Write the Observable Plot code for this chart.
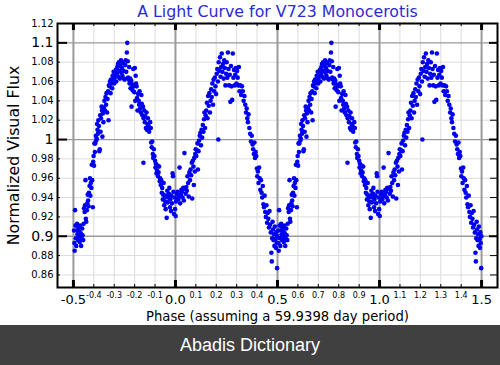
<!DOCTYPE html>
<html><head><meta charset="utf-8">
<script src="https://cdn.jsdelivr.net/npm/d3@7"></script>
<script src="https://cdn.jsdelivr.net/npm/@observablehq/plot@0.6"></script>
<style>
body{margin:0;background:#fff;}
#wrap{position:relative;width:500px;height:365px;overflow:hidden;font-family:"DejaVu Sans",sans-serif;background:#fff;}
#chart{position:absolute;left:0;top:0;}
#band{position:absolute;left:0;top:325px;width:500px;height:40px;background:#404040;color:#fff;font-family:"Liberation Sans",Arial,sans-serif;font-size:18px;text-align:center;line-height:40px;}
</style></head><body>
<div id="wrap"><div id="chart"></div><div id="band">Abadis Dictionary</div></div>
<script>
const title = "A Light Curve for V723 Monocerotis";
const xLabel = "Phase (assuming a 59.9398 day period)";
const yLabel = "Normalized Visual Flux";

// observations, phase-folded (one cycle, shown twice)
const phase = [
 -0.497,-0.495,-0.494,-0.492,-0.490,-0.488,-0.486,-0.484,-0.482,-0.480,-0.478,-0.476,-0.474,-0.471,-0.469,-0.467,-0.464,-0.462,-0.460,-0.457,-0.455,-0.452,-0.450,
 -0.448,-0.445,-0.443,-0.441,-0.439,-0.437,-0.434,-0.432,-0.430,-0.428,-0.426,-0.424,-0.421,-0.419,-0.417,-0.415,-0.412,-0.410,-0.408,-0.405,-0.403,-0.401,-0.399,-0.397,-0.395,
 -0.393,-0.390,-0.388,-0.386,-0.384,-0.382,-0.380,-0.378,-0.375,-0.373,-0.371,-0.369,-0.367,-0.365,-0.362,-0.360,-0.358,-0.356,-0.353,-0.351,
 -0.348,-0.345,-0.343,-0.340,-0.338,-0.335,-0.333,-0.330,-0.328,-0.326,-0.323,-0.321,-0.318,-0.316,-0.313,-0.310,-0.308,-0.305,-0.303,
 -0.300,-0.298,-0.295,-0.292,-0.290,-0.287,-0.285,-0.282,-0.280,-0.277,-0.275,-0.272,-0.270,-0.267,-0.265,-0.262,-0.260,-0.257,-0.255,-0.252,
 -0.249,-0.246,-0.244,-0.241,-0.238,-0.236,-0.234,-0.232,-0.229,-0.227,-0.225,-0.222,-0.220,-0.217,-0.215,-0.212,-0.210,-0.207,-0.205,-0.202,
 -0.199,-0.197,-0.195,-0.193,-0.190,-0.188,-0.186,-0.183,-0.180,-0.178,-0.176,-0.173,-0.170,-0.167,-0.165,-0.162,-0.159,-0.156,-0.153,
 -0.150,-0.148,-0.145,-0.142,-0.140,-0.137,-0.135,-0.132,-0.129,-0.127,-0.124,-0.121,-0.119,-0.116,-0.114,-0.111,-0.109,-0.106,-0.103,-0.157,
 -0.100,-0.098,-0.096,-0.093,-0.090,-0.088,-0.085,-0.083,-0.080,-0.077,-0.075,-0.072,-0.070,-0.067,-0.065,-0.062,-0.060,-0.058,-0.055,-0.052,
 -0.050,-0.048,-0.045,-0.043,-0.040,-0.038,-0.035,-0.032,-0.030,-0.027,-0.025,-0.022,-0.020,-0.017,-0.014,-0.012,-0.010,-0.007,-0.005,-0.002,
 0.001,0.003,0.006,0.008,0.011,0.014,0.017,0.020,0.023,0.026,0.029,0.032,0.035,0.038,0.041,0.044,0.047,
 0.050,0.053,0.056,0.059,0.062,0.065,0.068,0.071,0.074,0.077,0.080,0.082,0.085,0.088,0.090,0.092,0.095,0.097,0.099,
 0.102,0.105,0.108,0.110,0.113,0.116,0.119,0.122,0.125,0.128,0.131,0.134,0.137,0.140,0.142,0.145,0.148,
 0.151,0.154,0.157,0.160,0.163,0.166,0.169,0.172,0.175,0.178,0.181,0.184,0.187,0.190,0.193,0.196,0.199,
 0.202,0.205,0.208,0.210,0.212,0.215,0.218,0.221,0.224,0.227,0.230,0.233,0.236,0.239,0.242,0.245,0.248,
 0.251,0.254,0.257,0.260,0.263,0.266,0.269,0.272,0.275,0.278,0.281,0.284,0.287,0.290,0.293,0.296,0.299,
 0.302,0.305,0.308,0.311,0.314,0.318,0.322,0.326,0.330,0.334,0.338,0.342,0.346,0.349,
 0.352,0.355,0.358,0.362,0.366,0.370,0.374,0.378,0.381,0.384,0.387,0.390,0.393,0.396,0.399,
 0.401,0.404,0.407,0.410,0.413,0.416,0.419,0.422,0.425,0.428,0.431,0.434,0.437,0.440,0.443,0.446,0.449,
 0.452,0.455,0.458,0.461,0.464,0.467,0.470,0.472,0.474,0.476,0.478,0.480,0.483,0.485,0.487,0.490,0.492,0.494,0.496,0.498,0.499
];
const flux = [
 0.906,0.893,0.885,0.927,0.911,0.898,0.890,0.906,0.913,0.902,0.896,0.909,0.900,0.905,0.894,0.911,0.903,0.890,0.898,0.908,0.901,0.896,0.913,
 0.929,0.925,0.932,0.958,0.918,0.915,0.927,0.934,0.943,0.937,0.931,0.945,0.952,0.960,0.942,0.955,0.950,0.974,0.958,0.930,0.977,0.983,0.973,0.996,0.987,
 0.996,1.004,0.999,1.001,1.016,1.010,1.006,1.020,1.014,0.988,0.990,1.025,1.008,1.022,1.034,1.030,1.003,1.027,1.018,1.033,
 1.040,1.030,1.044,1.036,1.048,1.028,1.042,1.050,1.020,1.056,1.055,1.060,1.048,1.062,1.058,1.053,1.066,1.062,1.070,
 1.058,1.064,1.067,1.072,1.060,1.068,1.075,1.078,1.065,1.080,1.071,1.063,1.076,1.082,1.069,1.074,1.066,1.079,1.071,1.063,
 1.062,1.077,1.082,1.070,1.090,1.100,1.081,1.064,1.062,1.075,1.058,1.063,1.053,1.061,1.034,1.057,1.051,1.073,1.055,1.049,
 1.074,1.040,1.066,1.058,1.055,1.043,1.030,1.047,1.040,1.036,1.050,1.032,1.028,1.046,1.037,1.025,1.034,1.022,1.030,
 1.018,1.024,1.012,1.028,1.010,1.016,1.022,1.014,1.008,1.012,1.018,1.012,0.997,0.992,0.998,0.985,0.981,0.990,0.983,0.976,
 0.978,0.971,0.975,0.965,0.968,0.973,0.962,0.966,0.972,0.957,0.960,0.953,0.958,0.945,0.950,0.938,0.943,0.955,0.932,0.940,
 0.936,0.928,0.942,0.919,0.947,0.935,0.940,0.944,0.950,0.930,0.938,0.926,0.942,0.934,0.965,0.962,0.946,0.923,0.940,0.928,
 0.921,0.936,0.944,0.939,0.946,0.938,0.941,0.971,0.934,0.943,0.948,0.946,0.940,0.950,0.937,0.986,0.949,
 0.944,0.951,0.947,0.962,0.955,0.941,0.966,0.958,0.969,0.963,0.976,0.939,0.978,0.972,0.953,0.981,0.967,0.985,0.990,
 0.983,0.989,0.996,0.969,0.988,0.999,1.004,1.007,0.994,1.010,1.002,1.015,1.008,1.021,1.028,1.012,1.025,
 1.030,1.038,1.022,1.045,1.035,1.048,1.028,1.040,1.052,1.044,1.058,1.036,1.062,1.050,1.064,1.055,1.047,
 1.068,1.073,1.060,1.000,1.080,1.071,1.085,1.065,1.075,1.089,1.070,1.078,1.063,1.082,1.074,1.056,1.068,
 1.080,1.064,1.090,1.073,1.056,1.067,1.039,1.076,1.055,1.041,1.089,1.064,1.072,1.056,1.067,1.074,1.058,
 1.071,1.064,1.056,1.075,1.050,1.056,1.046,1.055,1.050,1.040,1.045,1.036,1.028,1.032,
 1.022,1.018,1.026,1.012,1.006,0.998,1.004,0.995,0.990,0.985,0.997,0.981,0.987,0.983,0.970,
 0.962,0.967,0.955,0.971,0.960,0.948,0.958,0.945,0.940,0.952,0.933,0.930,0.942,0.925,0.920,0.932,0.914,
 0.924,0.918,0.909,0.926,0.912,0.904,0.883,0.874,0.898,0.915,0.907,0.896,0.902,0.890,0.910,0.897,0.888,0.904,0.893,0.867,0.900
];
const cycleOffsets = [0, 1];

// ticks
const xMajorTicks = [-0.5, 0, 0.5, 1, 1.5];
const xMajorLabels = ["-0.5", "0.0", "0.5", "1.0", "1.5"];
const xMinorTicks = [-0.4,-0.3,-0.2,-0.1,0.1,0.2,0.3,0.4,0.6,0.7,0.8,0.9,1.1,1.2,1.3,1.4];
const xMinorLabels = ["-0.4","-0.3","-0.2","-0.1","0.1","0.2","0.3","0.4","0.6","0.7","0.8","0.9","1.1","1.2","1.3","1.4"];
const yMajorTicks = [0.9, 1, 1.1];
const yMajorLabels = ["0.9", "1", "1.1"];
const yMinorTicks = [0.86,0.88,0.92,0.94,0.96,0.98,1.02,1.04,1.06,1.08,1.12];
const yMinorLabels = ["0.86","0.88","0.92","0.94","0.96","0.98","1.02","1.04","1.06","1.08","1.12"];

const rows = [];
for (const off of cycleOffsets) phase.forEach((p, i) => rows.push({phase: p + off, flux: flux[i]}));

const fmt = (ticks, labels) => d => labels[ticks.findIndex(t => Math.abs(t - d) < 1e-9)];
const W = 500, H = 325, mL = 57, mR = 3, mT = 23, mB = 38;
const fw = W - mL - mR, fh = H - mT - mB;

const chart = Plot.plot({
  width: W, height: H,
  marginLeft: mL, marginRight: mR, marginTop: mT, marginBottom: mB,
  style: {fontFamily: "DejaVu Sans, sans-serif", background: "white", color: "black", overflow: "visible"},
  x: {domain: [-0.578, 1.578]},
  y: {domain: [0.847, 1.12]},
  marks: [
    Plot.ruleX(xMinorTicks, {stroke: "#dcdcdc", strokeWidth: 1}),
    Plot.ruleY(yMinorTicks, {stroke: "#dcdcdc", strokeWidth: 1}),
    Plot.ruleX(xMajorTicks, {stroke: "#9a9a9a", strokeWidth: 2}),
    Plot.ruleY(yMajorTicks, {stroke: "#9a9a9a", strokeWidth: 1.3}),
    Plot.dot(rows, {x: "phase", y: "flux", r: 2.3, fill: "#0000ee", stroke: "none"}),
    // inward ticks
    Plot.ruleX(xMajorTicks, {stroke: "black", strokeWidth: 3, insetBottom: fh - 7}),
    Plot.ruleX(xMajorTicks, {stroke: "black", strokeWidth: 3, insetTop: fh - 7}),
    Plot.ruleX(xMinorTicks, {stroke: "black", strokeWidth: 1, insetBottom: fh - 3}),
    Plot.ruleX(xMinorTicks, {stroke: "black", strokeWidth: 1, insetTop: fh - 3}),
    Plot.ruleY(yMajorTicks, {stroke: "black", strokeWidth: 2, insetRight: fw - 10}),
    Plot.ruleY(yMinorTicks, {stroke: "black", strokeWidth: 1, insetRight: fw - 3}),
    Plot.ruleY(yMajorTicks, {stroke: "black", strokeWidth: 2, insetLeft: fw - 8}),
    Plot.ruleY(yMinorTicks, {stroke: "black", strokeWidth: 1, insetLeft: fw - 7}),
    Plot.frame({stroke: "black", strokeWidth: 2}),
    // tick labels
    Plot.axisX(xMajorTicks, {anchor: "bottom", tickSize: 0, tickPadding: 7, fontSize: 13, tickFormat: fmt(xMajorTicks, xMajorLabels), label: null}),
    Plot.axisX(xMinorTicks, {anchor: "bottom", tickSize: 0, tickPadding: 5, fontSize: 8, tickFormat: fmt(xMinorTicks, xMinorLabels), label: null}),
    Plot.axisY(yMajorTicks, {anchor: "left", tickSize: 0, tickPadding: 4, fontSize: 14, tickFormat: fmt(yMajorTicks, yMajorLabels), label: null}),
    Plot.axisY(yMinorTicks, {anchor: "left", tickSize: 0, tickPadding: 4, fontSize: 10, tickFormat: fmt(yMinorTicks, yMinorLabels), label: null}),
    // titles
    Plot.text([title], {frameAnchor: "top", dy: -12, lineAnchor: "middle", textAnchor: "middle", text: d => d, fontSize: 15.8, fill: "#2b2bd6"}),
    Plot.text([xLabel], {frameAnchor: "bottom", dy: 29, lineAnchor: "middle", textAnchor: "middle", text: d => d, fontSize: 13.2, fill: "black"}),
    Plot.text([yLabel], {frameAnchor: "left", dx: -44, rotate: -90, lineAnchor: "middle", textAnchor: "middle", text: d => d, fontSize: 15.8, fill: "black"})
  ]
});
document.getElementById("chart").appendChild(chart);
</script>
</body></html>
